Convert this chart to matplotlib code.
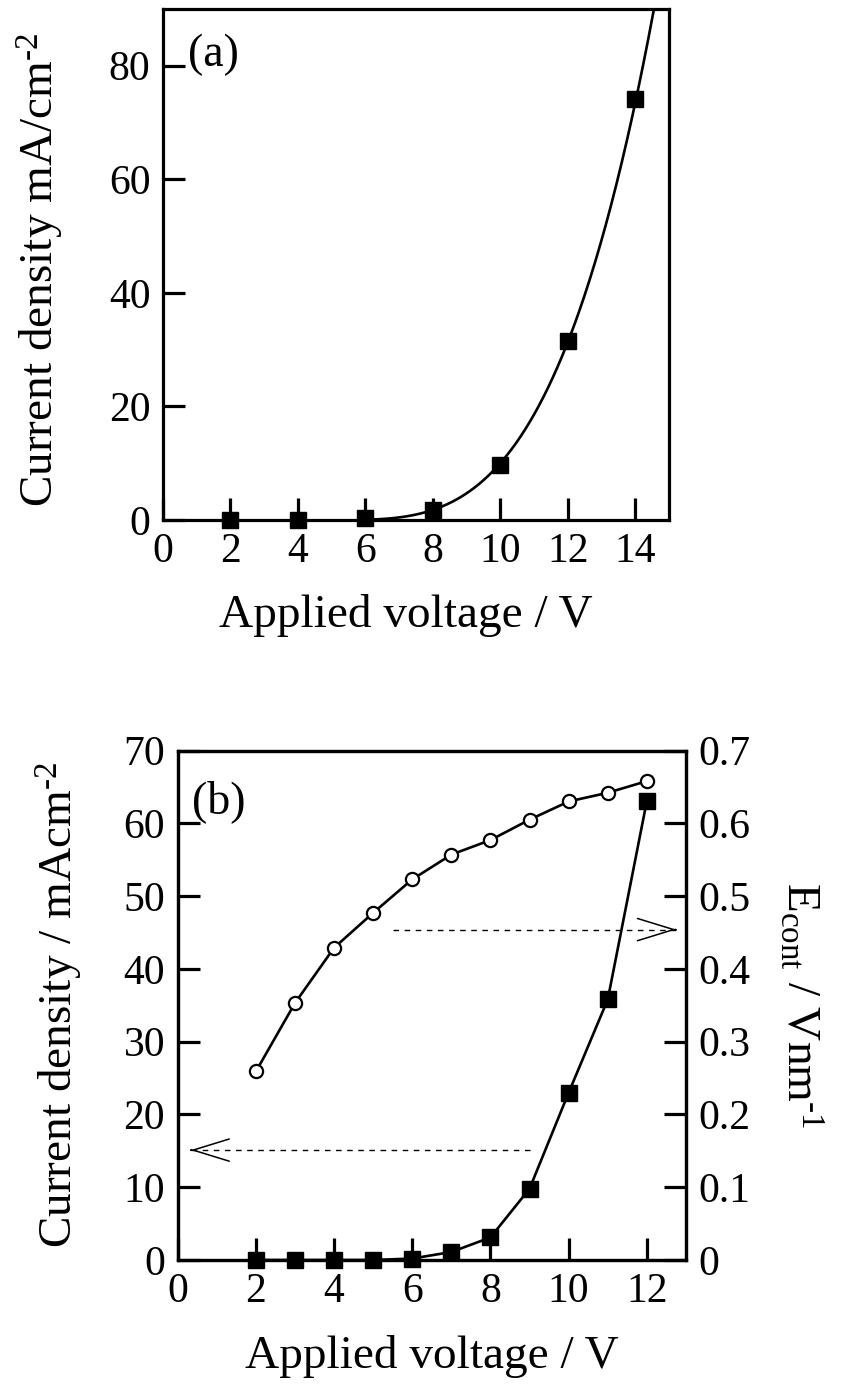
import numpy as np
import matplotlib.pyplot as plt

plt.rcParams['font.family'] = ['Liberation Serif', 'DejaVu Serif']
plt.rcParams['mathtext.fontset'] = 'custom'
plt.rcParams['mathtext.rm'] = 'Liberation Serif'
plt.rcParams['mathtext.it'] = 'Liberation Serif:italic'

# panel (a): current density vs applied voltage
volt_a = [2, 4, 6, 8, 10, 12, 14]
curr_a = [0.0, 0.0, 0.3, 1.8, 9.7, 31.6, 74.2]

# panel (b): current density and E_cont vs applied voltage
volt_b = [2, 3, 4, 5, 6, 7, 8, 9, 10, 11, 12]
curr_b = [0.0, 0.0, 0.0, 0.0, 0.2, 1.1, 3.1, 9.8, 23.0, 35.8, 63.1]
econt_b = [0.259, 0.353, 0.429, 0.477, 0.523, 0.557, 0.577, 0.605, 0.630, 0.642, 0.658]

# dashed guide arrows in (b): x from -> to, y in left-axis units
arrow_right_x = [5.5, 12.75]
arrow_right_y = 45.4
arrow_left_x = [9.0, 0.33]
arrow_left_y = 15.1

TICK_FS = 30
LABEL_FS = 34
SPINE_W = 2.3


def style_axis(ax):
    for sp in ax.spines.values():
        sp.set_linewidth(SPINE_W)
    ax.tick_params(direction='in', length=16, width=SPINE_W,
                   labelsize=TICK_FS, pad=9)


fig = plt.figure(figsize=(8.42, 14), dpi=100)

# ---- (a) ----
ax1 = fig.add_axes([0.1936, 0.6286, 0.601, 0.365])
style_axis(ax1)
ax1.tick_params(top=False, right=False)

# power-law fit through the rising points (J ~ a (V - 5)^n)
va = np.array(volt_a, dtype=float)
ja = np.array(curr_a)
m = ja > 1
n, b = np.polyfit(np.log(va[m] - 5.0), np.log(ja[m]), 1)
v_fit = np.linspace(6.0, 15.0, 400)
j_fit = np.exp(b) * (v_fit - 5.0) ** n
ax1.plot(v_fit, j_fit, color='black', lw=1.9, zorder=2)
ax1.plot(volt_a, curr_a, 's', color='black', ms=11.5, mec='black', zorder=3,
         clip_on=False)

ax1.set_xlim(0, 15)
ax1.set_ylim(0, 90)
ax1.set_xticks(range(0, 15, 2))
ax1.set_yticks(range(0, 81, 20))
ax1.set_xlabel('Applied voltage / V', fontsize=LABEL_FS, va='center')
ax1.set_ylabel(r'Current density mA/cm$^{\text{-2}}$', fontsize=LABEL_FS, va='center')
ax1.xaxis.set_label_coords(0.48, -0.186)
ax1.yaxis.set_label_coords(-0.243, 0.49)
ax1.text(0.049, 0.91, '(a)', transform=ax1.transAxes, fontsize=33,
         ha='left', va='center')

# ---- (b) ----
ax2 = fig.add_axes([0.211, 0.1, 0.6037, 0.3639])
style_axis(ax2)
ax2.tick_params(top=False, right=False)
ax2.plot(volt_b, curr_b, '-s', color='black', lw=1.9, ms=11, zorder=3,
         clip_on=False)
ax2.set_xlim(0, 13)
ax2.set_ylim(0, 70)
ax2.set_xticks(range(0, 13, 2))
ax2.set_yticks(range(0, 71, 10))
ax2.set_xlabel('Applied voltage / V', fontsize=LABEL_FS, va='center')
ax2.set_ylabel(r'Current density / mAcm$^{\text{-2}}$', fontsize=LABEL_FS, va='center')
ax2.xaxis.set_label_coords(0.5, -0.19)
ax2.yaxis.set_label_coords(-0.232, 0.5)
ax2.text(0.028, 0.899, '(b)', transform=ax2.transAxes, fontsize=33,
         ha='left', va='center')

# dashed guides with open heads
for xs, y in ((arrow_right_x, arrow_right_y), (arrow_left_x, arrow_left_y)):
    ax2.plot(xs, [y, y], color='black', lw=1.0, ls=(0, (4, 4)), zorder=1)
    d = 0.02 if xs[1] > xs[0] else -0.02
    ax2.annotate('', xy=(xs[1], y), xytext=(xs[1] - d, y),
                 arrowprops=dict(arrowstyle='->,head_length=2.6,head_width=0.8',
                                 lw=1.1, color='black', mutation_scale=10,
                                 shrinkA=0, shrinkB=0))

ax3 = ax2.twinx()
style_axis(ax3)
ax3.tick_params(left=False, top=False)
ax3.plot(volt_b, econt_b, '-o', color='black', lw=1.9, ms=9.5, mfc='white',
         mec='black', mew=1.6, zorder=3)
ax3.set_ylim(0, 0.7)
ax3.set_yticks([0, 0.1, 0.2, 0.3, 0.4, 0.5, 0.6, 0.7])
ax3.set_yticklabels(['0', '0.1', '0.2', '0.3', '0.4', '0.5', '0.6', '0.7'])
ax3.set_ylabel(r'E$_{\mathrm{cont}}$ / Vnm$^{\text{-1}}$', fontsize=LABEL_FS,
               rotation=270, va='center')
ax3.yaxis.set_label_coords(1.225, 0.5)

fig.savefig('out.png', dpi=100)
